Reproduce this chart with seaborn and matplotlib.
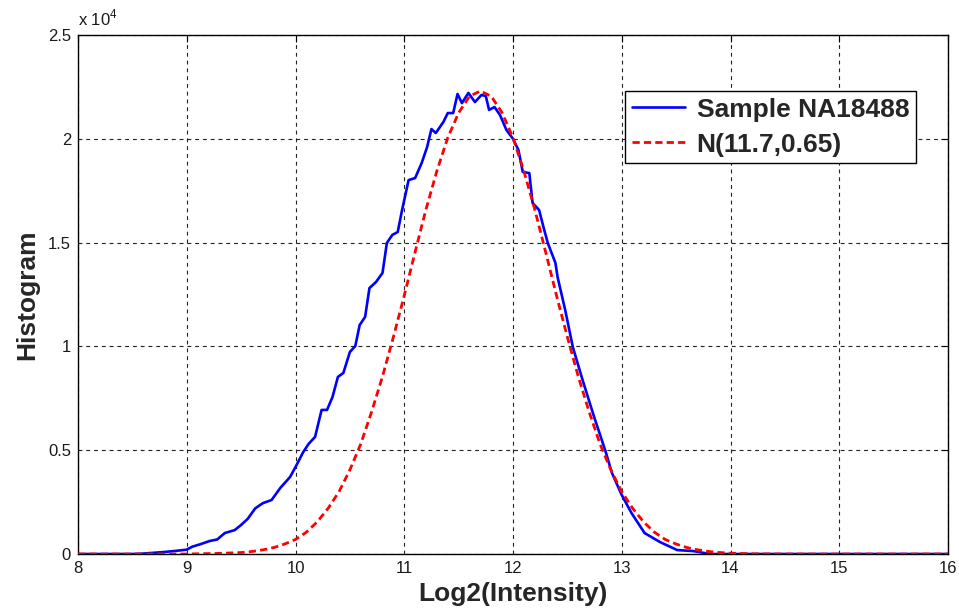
import matplotlib
matplotlib.use("Agg")
import matplotlib.pyplot as plt
import seaborn as sns
import pandas as pd
from matplotlib.ticker import FuncFormatter, FixedLocator

# ---- data ----
blue_x = [8.0, 8.5, 8.6, 8.7, 8.8, 8.9, 9.0, 9.05, 9.13, 9.21, 9.28, 9.35, 9.44, 9.5, 9.56,
          9.63, 9.70, 9.78, 9.86, 9.95, 10.0, 10.07, 10.12, 10.18, 10.24, 10.29, 10.34, 10.39,
          10.44, 10.50, 10.55, 10.59, 10.64, 10.68, 10.74, 10.80, 10.84, 10.89, 10.94, 10.98,
          11.04, 11.10, 11.16, 11.21, 11.25, 11.29, 11.36, 11.40, 11.45, 11.49, 11.53, 11.59,
          11.65, 11.71, 11.75, 11.78, 11.83, 11.88, 11.94, 12.0, 12.05, 12.09, 12.15, 12.18,
          12.24, 12.28, 12.32, 12.39, 12.41, 12.48, 12.55, 12.64, 12.74, 12.85, 12.91, 13.0,
          13.09, 13.21, 13.35, 13.51, 13.66, 13.81, 16.0]
blue_y = [0, 0, 20, 60, 100, 150, 210, 350, 480, 625, 700, 1010, 1150, 1400, 1690,
          2200, 2450, 2600, 3180, 3710, 4190, 4900, 5300, 5640, 6940, 6940, 7560, 8530,
          8720, 9730, 10020, 11030, 11420, 12810, 13100, 13540, 14980, 15370, 15510, 16570,
          18010, 18110, 18830, 19600, 20470, 20280, 20810, 21240, 21240, 22160, 21720, 22210,
          21770, 22110, 22060, 21390, 21530, 21150, 20420, 20000, 19460, 18400, 18350, 16910,
          16570, 15750, 14980, 14020, 13340, 11750, 9970, 8380, 6700, 4960, 3900, 2840,
          1970, 1010, 580, 190, 140, 0, 0]

red_x = [8.0, 9.0, 9.3, 9.5, 9.6, 9.7, 9.8, 9.9, 10.0, 10.1, 10.2, 10.3, 10.4, 10.5, 10.6,
         10.7, 10.8, 10.9, 11.0, 11.1, 11.2, 11.3, 11.4, 11.5, 11.6, 11.7, 11.8, 11.9, 12.0,
         12.1, 12.2, 12.3, 12.4, 12.5, 12.6, 12.7, 12.8, 12.9, 13.0, 13.1, 13.2, 13.3, 13.4,
         13.5, 13.6, 13.7, 13.8, 13.9, 14.0, 14.2, 14.5, 16.0]
red_y = [0, 0, 30, 70, 120, 200, 310, 480, 700, 1050, 1550, 2200, 3000, 4050, 5300,
         6850, 8550, 10450, 12450, 14550, 16600, 18450, 20050, 21250, 22050, 22300, 22050,
         21250, 20050, 18450, 16600, 14550, 12450, 10450, 8550, 6850, 5300, 4050, 3000, 2200,
         1550, 1050, 700, 480, 310, 200, 120, 70, 40, 10, 0, 0]

label_blue = "Sample NA18488"
label_red = "N(11.7,0.65)"
x_ticks = [8, 9, 10, 11, 12, 13, 14, 15, 16]
y_ticks = [0, 5000, 10000, 15000, 20000, 25000]

sns.set_style("white")
plt.rcParams['font.family'] = ['Liberation Sans', 'DejaVu Sans']
plt.rcParams['mathtext.fontset'] = 'custom'
plt.rcParams['mathtext.rm'] = 'Liberation Sans'

fig = plt.figure(figsize=(9.59, 6.14), dpi=100)
ax = fig.add_axes([78/959, 60/614, 870/959, 519/614])

df_b = pd.DataFrame({"x": blue_x, "y": blue_y})
df_r = pd.DataFrame({"x": red_x, "y": red_y})

sns.lineplot(data=df_b, x="x", y="y", ax=ax, color="#0000FF", lw=1.9,
             label=label_blue, sort=False, zorder=3)
sns.lineplot(data=df_r, x="x", y="y", ax=ax, color="#FF0000", lw=2.0,
             label=label_red, sort=False, zorder=4, dashes=False)
ax.lines[1].set_dashes((2.6, 1.5))

ax.set_xlim(8, 16)
ax.set_ylim(0, 25000)
ax.xaxis.set_major_locator(FixedLocator(x_ticks))
ax.yaxis.set_major_locator(FixedLocator(y_ticks))
ax.yaxis.set_major_formatter(FuncFormatter(lambda v, p: "%g" % (v / 1e4)))

ax.grid(True, color="#222222", linestyle=(0, (3.5, 3.5)), lw=0.8)
ax.set_axisbelow(True)
for s in ax.spines.values():
    s.set_color("black")
    s.set_linewidth(1.0)
ax.tick_params(direction="in", length=5, width=0.8, top=True, right=True,
               labelsize=12, colors="black", labelcolor="#1a1a1a", pad=5)

ax.set_xlabel("Log2(Intensity)", fontsize=19, fontweight="bold", labelpad=4)
ax.set_ylabel("Histogram", fontsize=19, fontweight="bold", labelpad=6)

ax.text(0.0, 1.012, r"x 10$^{4}$", transform=ax.transAxes, fontsize=12,
        ha="left", va="bottom", color="#1a1a1a")

leg = ax.legend(loc="upper right", bbox_to_anchor=(0.963, 0.892), borderaxespad=0,
                fancybox=False, framealpha=1, edgecolor="black",
                prop={"size": 19, "weight": "bold"}, handlelength=2.0,
                labelspacing=0.42, borderpad=0.25, handletextpad=0.45)
leg.get_frame().set_linewidth(1.0)

fig.savefig("out.png", dpi=100)
